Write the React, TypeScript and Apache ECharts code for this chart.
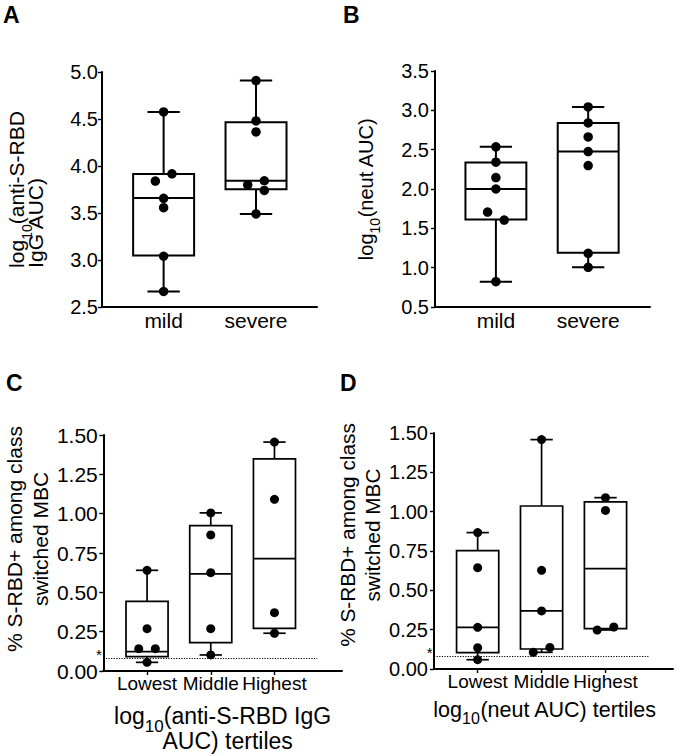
import React, { useEffect, useRef } from 'react';
import * as echarts from 'echarts';

const FONT = '"Liberation Sans", Arial, Helvetica, sans-serif';

// Categories
const groupsAB = ['mild', 'severe'];
const tertiles = ['Lowest', 'Middle', 'Highest'];

// Panel A: log10(anti-S-RBD IgG AUC)
const aMild = [4.575, 3.917, 3.84, 3.656, 3.556, 3.04, 2.665];
const aMildSide = [0, 1, -1, 0, 0, 0, 0];
const aSevere = [4.909, 4.48, 4.363, 3.843, 3.8, 3.74, 3.49];
const aSevereSide = [0, 0, 0, 1, -1, 1, 0];
// [min, Q1, median, Q3, max]
const aBoxMild = [2.665, 3.047, 3.66, 3.914, 4.575];
const aBoxSevere = [3.49, 3.752, 3.843, 4.466, 4.909];

// Panel B: log10(neut AUC)
const bMild = [2.536, 2.341, 2.146, 2.0, 1.707, 1.605, 0.822];
const bMildSide = [0, 0, 0, 0, -1, 1, 0];
const bSevere = [3.043, 2.84, 2.662, 2.476, 2.298, 1.182, 1.004];
const bSevereSide = [0, 0, 0, 0, 0, 0, 0];
const bBoxMild = [0.822, 1.613, 1.999, 2.336, 2.536];
const bBoxSevere = [1.004, 1.19, 2.476, 2.84, 3.043];

// Panel C: % S-RBD+ by anti-S-RBD IgG tertiles
const cLowest = [0.64, 0.269, 0.142, 0.142, 0.055];
const cLowestSide = [0, 0, -1, 1, 0];
const cMiddle = [1.005, 0.865, 0.625, 0.269, 0.102];
const cMiddleSide = [0, 0, 0, 0, 0];
const cHighest = [1.455, 1.091, 0.371, 0.24];
const cHighestSide = [0, 0, 0, 0];
const cBoxLowest = [0.055, 0.091, 0.123, 0.443, 0.64];
const cBoxMiddle = [0.102, 0.18, 0.617, 0.924, 1.005];
const cBoxHighest = [0.24, 0.271, 0.714, 1.348, 1.455];

// Panel D: % S-RBD+ by neut AUC tertiles
const dLowest = [0.867, 0.644, 0.265, 0.135, 0.059];
const dLowestSide = [0, 0, 0, 0, 0];
const dMiddle = [1.458, 0.627, 0.369, 0.106, 0.137];
const dMiddleSide = [0, 0, 0, -1, 1];
const dHighest = [1.089, 1.008, 0.248, 0.267];
const dHighestSide = [0, 0, -1, 1];
const dBoxLowest = [0.059, 0.104, 0.265, 0.752, 0.867];
const dBoxMiddle = [0.106, 0.127, 0.369, 1.036, 1.458];
const dBoxHighest = [0.248, 0.256, 0.638, 1.062, 1.089];

// Limit of detection (dotted line)
const LOD = 0.08;

// Tick ranges
const aTicks = { min: 2.5, max: 5.0, interval: 0.5 };
const bTicks = { min: 0.5, max: 3.5, interval: 0.5 };
const cdTicks = { min: 0, max: 1.5, interval: 0.25 };

const JIT = 8.3;

function boxSeries(idx: number, boxes: number[][], lw: number) {
  return {
    type: 'custom',
    xAxisIndex: idx,
    yAxisIndex: idx,
    z: 2,
    clip: false,
    encode: { x: 0, y: [1, 2, 3, 4, 5] },
    data: boxes.map((b, i) => [i, ...b]),
    renderItem: (params: any, api: any) => {
      const x = api.value(0);
      const unit = api.size([1, 0])[0];
      const bw = unit * 0.66;
      const cw = unit * 0.35;
      const pMin = api.coord([x, api.value(1)]);
      const pQ1 = api.coord([x, api.value(2)]);
      const pMed = api.coord([x, api.value(3)]);
      const pQ3 = api.coord([x, api.value(4)]);
      const pMax = api.coord([x, api.value(5)]);
      const cx = pMin[0];
      const st = { stroke: '#000', lineWidth: lw, fill: 'none' };
      return {
        type: 'group',
        children: [
          { type: 'line', shape: { x1: cx, y1: pMax[1], x2: cx, y2: pQ3[1] }, style: st },
          { type: 'line', shape: { x1: cx, y1: pQ1[1], x2: cx, y2: pMin[1] }, style: st },
          { type: 'line', shape: { x1: cx - cw / 2, y1: pMax[1], x2: cx + cw / 2, y2: pMax[1] }, style: st },
          { type: 'line', shape: { x1: cx - cw / 2, y1: pMin[1], x2: cx + cw / 2, y2: pMin[1] }, style: st },
          {
            type: 'rect',
            shape: { x: cx - bw / 2, y: pQ3[1], width: bw, height: pQ1[1] - pQ3[1] },
            style: { stroke: '#000', lineWidth: lw, fill: '#fff' },
          },
          { type: 'line', shape: { x1: cx - bw / 2, y1: pMed[1], x2: cx + bw / 2, y2: pMed[1] }, style: st },
        ],
      };
    },
  };
}

function pointSeries(idx: number, groups: number[][], sides: number[][], size: number, extra: any = {}) {
  const data: any[] = [];
  groups.forEach((vals, i) =>
    vals.forEach((v, j) => data.push({ value: [i, v], symbolOffset: [sides[i][j] * JIT, 0] }))
  );
  return {
    type: 'scatter',
    xAxisIndex: idx,
    yAxisIndex: idx,
    z: 5,
    symbol: 'circle',
    symbolSize: size,
    itemStyle: { color: '#000', opacity: 1 },
    data,
    ...extra,
  };
}

function lodLine(xStart: number, xEnd: number) {
  return {
    markLine: {
      silent: true,
      symbol: ['none', 'none'],
      lineStyle: { type: [1.2, 1.4], color: '#000', width: 1 },
      label: {
        show: true,
        position: 'start',
        formatter: '*',
        fontSize: 15,
        lineHeight: 8,
        offset: [0, -4],
        color: '#000',
        distance: 1.5,
        fontFamily: FONT,
      },
      emphasis: { disabled: true },
      data: [[{ coord: [xStart, LOD] }, { coord: [xEnd, LOD] }]],
    },
  };
}

function xAxisCfg(idx: number, min: number, max: number, cats: string[], fontSize: number, margin: number, ticks: boolean, extra: any = {}) {
  const vals = cats.map((_, i) => i);
  return {
    type: 'value',
    gridIndex: idx,
    min,
    max,
    axisLine: { onZero: false, lineStyle: { color: '#000', width: 2 } },
    splitLine: { show: false },
    axisTick: { show: ticks, customValues: vals, length: 4, lineStyle: { color: '#000', width: 1.4 } },
    axisLabel: {
      customValues: vals,
      formatter: (v: number) => cats[Math.round(v)] ?? '',
      fontSize,
      fontFamily: FONT,
      color: '#000',
      margin,
    },
    ...extra,
  };
}

function yAxisCfg(idx: number, t: any, decimals: number, fontSize: number, margin: number, extra: any = {}) {
  return {
    type: 'value',
    gridIndex: idx,
    min: t.min,
    max: t.max,
    interval: t.interval,
    axisLine: { show: true, onZero: false, lineStyle: { color: '#000', width: 2 } },
    axisTick: { show: true, length: 4, lineStyle: { color: '#000', width: 1.4 } },
    splitLine: { show: false },
    axisLabel: {
      formatter: (v: number) => v.toFixed(decimals),
      fontSize,
      fontFamily: FONT,
      color: '#000',
      margin,
    },
    nameLocation: 'middle',
    ...extra,
  };
}

// rich styles: "a" normal text, "s" lowered subscript (drop in px), "b" shifted second line
function subRich(size: number, lh: number, subSize: number, drop: number, align?: string, bPadLeft = 0) {
  const base: any = { fontSize: size, lineHeight: lh, fontFamily: FONT, color: '#000' };
  const sub: any = {
    fontSize: subSize,
    lineHeight: 1,
    height: 1,
    padding: [drop * 2, 0, 0, 0],
    fontFamily: FONT,
    color: '#000',
  };
  const b: any = { ...base, padding: [0, 0, 0, bPadLeft] };
  if (align) {
    base.align = align;
    sub.align = align;
    b.align = align;
  }
  return { a: base, s: sub, b };
}

export default function App() {
  const ref = useRef<HTMLDivElement>(null);

  useEffect(() => {
    if (!ref.current) return;
    const chart = echarts.init(ref.current, undefined, { renderer: 'svg' });

    const letter = (t: string, x: number, y: number) => ({
      type: 'text',
      x,
      y,
      style: { text: t, fontSize: 23, fontWeight: 'bold', fontFamily: FONT, fill: '#000', textAlign: 'left', textVerticalAlign: 'middle' },
    });

    const option: any = {
      animation: false,
      backgroundColor: '#fff',
      grid: [
        { left: 102, top: 72, width: 215, height: 235 },
        { left: 435, top: 71, width: 215, height: 236 },
        { left: 100, top: 435, width: 242, height: 236 },
        { left: 434, top: 433, width: 239, height: 236 },
      ],
      xAxis: [
        xAxisCfg(0, -0.667, 1.66, groupsAB, 21, 3, false),
        xAxisCfg(1, -0.66, 1.67, groupsAB, 21, 3, false),
        xAxisCfg(2, -0.687, 3.06, tertiles, 19, 3, true, {
          name: '{a|log}{s|10}{a|(anti-S-RBD IgG}\n{b|AUC) tertiles}',
          nameLocation: 'middle',
          nameGap: 32,
          nameTextStyle: { fontSize: 23, lineHeight: 25, fontFamily: FONT, color: '#000', rich: subRich(23, 25, 17, 11, undefined, 10) },
        }),
        xAxisCfg(3, -0.683, 3.056, tertiles, 19, 3, true, {
          name: '{a|log}{s|10}{a|(neut AUC) tertiles}',
          nameLocation: 'middle',
          nameGap: 32,
          nameTextStyle: { fontSize: 21.5, lineHeight: 18, fontFamily: FONT, color: '#000', padding: [0, 17, 0, 0], rich: subRich(21.5, 18, 16, 8.5) },
        }),
      ],
      yAxis: [
        yAxisCfg(0, aTicks, 1, 20, 4, {
          name: '{a|log}{s|10}{a|(anti-S-RBD}\n{a|IgG AUC)}',
          nameGap: 57,
          nameTextStyle: { fontSize: 21, lineHeight: 19, fontFamily: FONT, color: '#000', rich: subRich(21, 19, 14, 10.5, 'left') },
        }),
        yAxisCfg(1, bTicks, 1, 20, 6, {
          name: '{a|log}{s|10}{a|(neut AUC)}',
          nameGap: 60,
          nameTextStyle: { fontSize: 20, lineHeight: 18, fontFamily: FONT, color: '#000', rich: subRich(20, 18, 14, 8.5) },
        }),
        yAxisCfg(2, cdTicks, 2, 21, 5.5, {
          name: '% S-RBD+ among class\nswitched MBC',
          nameGap: 43,
          nameTextStyle: { fontSize: 21, lineHeight: 26, fontFamily: FONT, color: '#000', padding: [0, 0, 0, 28] },
        }),
        yAxisCfg(3, cdTicks, 2, 20, 6, {
          name: '% S-RBD+ among class\nswitched MBC',
          nameGap: 34,
          nameTextStyle: { fontSize: 20.8, lineHeight: 25, fontFamily: FONT, color: '#000', padding: [0, 0, 0, 32] },
        }),
      ],
      series: [
        boxSeries(0, [aBoxMild, aBoxSevere], 2),
        pointSeries(0, [aMild, aSevere], [aMildSide, aSevereSide], 9.5),
        boxSeries(1, [bBoxMild, bBoxSevere], 2),
        pointSeries(1, [bMild, bSevere], [bMildSide, bSevereSide], 9.5),
        boxSeries(2, [cBoxLowest, cBoxMiddle, cBoxHighest], 1.7),
        pointSeries(2, [cLowest, cMiddle, cHighest], [cLowestSide, cMiddleSide, cHighestSide], 9, lodLine(-0.687, 2.673)),
        boxSeries(3, [dBoxLowest, dBoxMiddle, dBoxHighest], 1.7),
        pointSeries(3, [dLowest, dMiddle, dHighest], [dLowestSide, dMiddleSide, dHighestSide], 9, lodLine(-0.683, 2.692)),
      ],
      graphic: [letter('A', 3, 15), letter('B', 343, 15), letter('C', 6, 382.5), letter('D', 340, 382.5)],
    };

    chart.setOption(option);
    return () => chart.dispose();
  }, []);

  return (
    <div
      ref={ref}
      style={{ position: 'fixed', left: 0, top: 0, width: 678, height: 756, background: '#fff' }}
    />
  );
}
